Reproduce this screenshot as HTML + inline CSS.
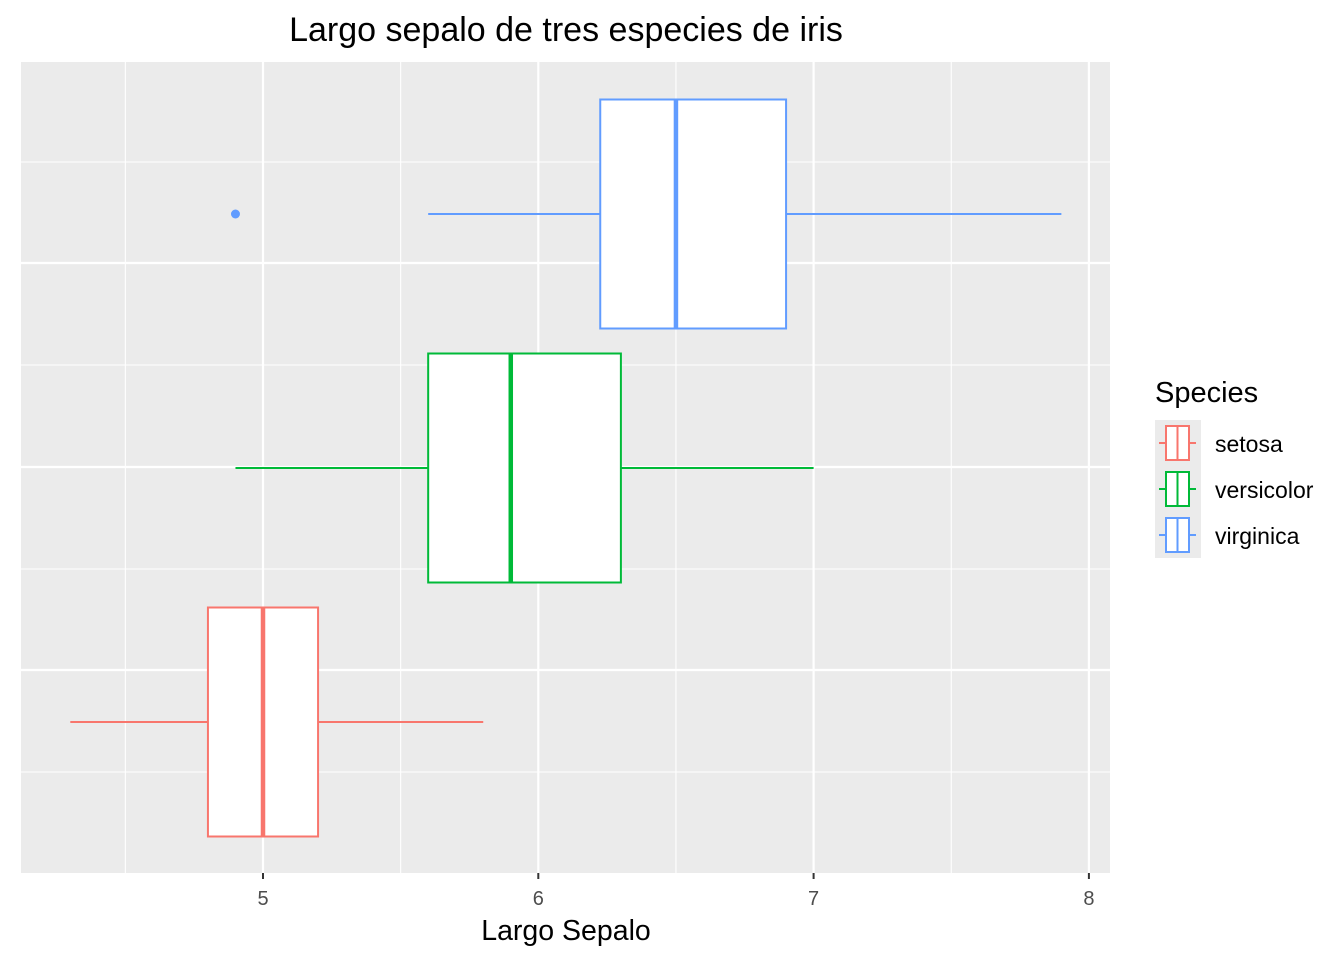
<!DOCTYPE html>
<html><head><meta charset="utf-8"><style>
body{margin:0;background:#fff;font-family:"Liberation Sans",Arial,sans-serif}
svg{display:block}
</style></head><body>
<svg width="1344" height="960" xmlns="http://www.w3.org/2000/svg" font-family="Liberation Sans, Arial, sans-serif">
<text x="566" y="41" font-size="34" text-anchor="middle" fill="#000">Largo sepalo de tres especies de iris</text>
<rect x="21" y="62" width="1089" height="811" fill="#ebebeb"/>
<g id="grid"></g>
<g id="boxes"></g>
<g id="xaxis"></g>
<text x="566" y="940" font-size="28.5" text-anchor="middle" fill="#000">Largo Sepalo</text>
<g>
<text x="1155" y="402" font-size="29" fill="#000">Species</text>
<g id="legend"></g>
</g>
</svg>
<script>
const species=["setosa","versicolor","virginica"];
const colors=["#f8766d","#00ba38","#619cff"];
const wlo=[4.3,4.9,5.6];
const q1=[4.8,5.6,6.225];
const med=[5.0,5.9,6.5];
const q3=[5.2,6.3,6.9];
const whi=[5.8,7.0,7.9];
const outX=[4.9];
const outCat=[2];
const xTicks=[5,6,7,8];
const xMinor=[4.5,5.5,6.5,7.5];
const ns="http://www.w3.org/2000/svg";
const X=v=>263+(v-5)*275.3;
const Y=i=>722-i*254;
function mk(t,a,p){const e=document.createElementNS(ns,t);for(const k in a)e.setAttribute(k,a[k]);p.appendChild(e);return e;}
const g=document.getElementById('grid');
xMinor.forEach(v=>{const l=mk('line',{x1:X(v),x2:X(v),y1:62,y2:873,stroke:'#fff','stroke-width':1.1},g);
});
[162,365,569,772].forEach(y=>{const l=mk('line',{x1:21,x2:1110,y1:y,y2:y,stroke:'#fff','stroke-width':1.1},g);
});
[263,467,670].forEach(y=>{const l=mk('line',{x1:21,x2:1110,y1:y,y2:y,stroke:'#fff','stroke-width':2.2},g);
});
xTicks.forEach(v=>{const l=mk('line',{x1:X(v),x2:X(v),y1:62,y2:873,stroke:'#fff','stroke-width':2.2},g);
});
const b=document.getElementById('boxes');
species.forEach((s,i)=>{const c=colors[i],y=Y(i),h=114.5;
const gg=mk('g',{},b);
mk('line',{x1:X(wlo[i]),x2:X(q1[i]),y1:y,y2:y,stroke:c,'stroke-width':2},gg);
mk('line',{x1:X(q3[i]),x2:X(whi[i]),y1:y,y2:y,stroke:c,'stroke-width':2},gg);
mk('rect',{x:X(q1[i]),y:y-h,width:X(q3[i])-X(q1[i]),height:2*h,fill:'#fff',stroke:c,'stroke-width':2},gg);
mk('line',{x1:X(med[i]),x2:X(med[i]),y1:y-h,y2:y+h,stroke:c,'stroke-width':4.5},gg);});
outX.forEach((v,k)=>{const p=mk('circle',{cx:X(v),cy:Y(outCat[k]),r:4.5,fill:colors[outCat[k]]},b);
});
const xa=document.getElementById('xaxis');
xTicks.forEach(v=>{mk('line',{x1:X(v),x2:X(v),y1:873,y2:879,stroke:'#333','stroke-width':2},xa);
const t=mk('text',{x:X(v),y:905,'font-size':20,'text-anchor':'middle',fill:'#4d4d4d'},xa);t.textContent=v;
});
const lg=document.getElementById('legend');
mk('rect',{x:1155,y:420,width:46,height:138,fill:'#ebebeb'},lg);
species.forEach((s,i)=>{const c=colors[i],cy=443+i*46;
const e=mk('g',{},lg);
mk('line',{x1:1159,x2:1196,y1:cy,y2:cy,stroke:c,'stroke-width':2},e);
mk('rect',{x:1166,y:cy-17,width:23,height:34,fill:'#fff',stroke:c,'stroke-width':2},e);
mk('line',{x1:1177.5,x2:1177.5,y1:cy-17,y2:cy+17,stroke:c,'stroke-width':2},e);
const t=mk('text',{x:1215,y:cy+9,'font-size':23,fill:'#000'},e);t.textContent=s;});
</script>
</body></html>
